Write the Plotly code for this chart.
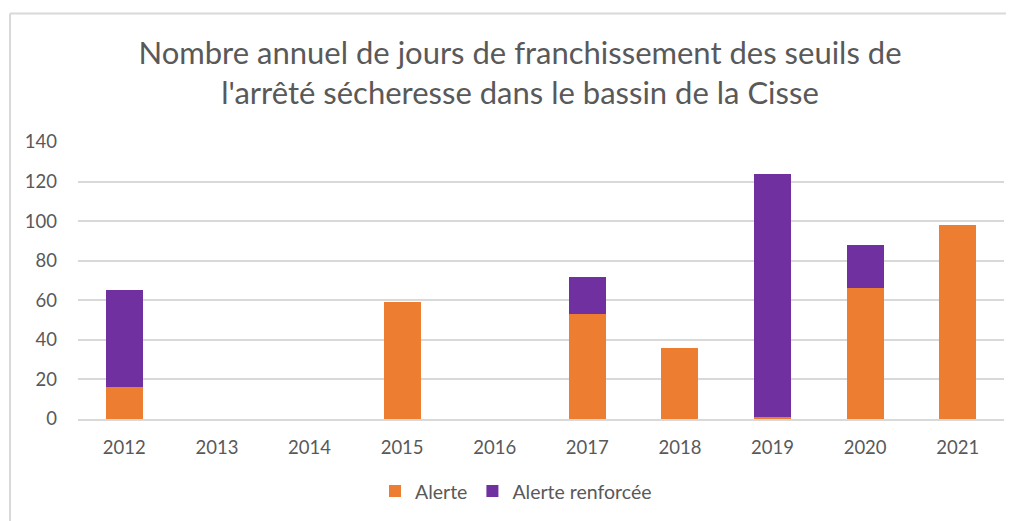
import plotly.graph_objects as go

years = ["2012", "2013", "2014", "2015", "2016", "2017", "2018", "2019", "2020", "2021"]
alerte = [16, 0, 0, 59, 0, 53, 36, 1, 66, 98]
alerte_renforcee = [49, 0, 0, 0, 0, 19, 0, 123, 22, 0]
y_ticks = [0, 20, 40, 60, 80, 100, 120, 140]

# The page body has an 8px margin; work in window pixels and convert.
OFF = 8
WIN_W, WIN_H = 1014, 521
W, H = WIN_W - OFF, WIN_H - OFF
L, R, T, B = 78 - OFF, WIN_W - 1004, 142 - OFF, WIN_H - 422
pw, ph = W - L - R, H - T - B

def px(x):
    return (x - OFF - L) / pw

def py(y):
    return (H - B - (y - OFF)) / ph

fig = go.Figure()
fig.add_trace(go.Bar(x=years, y=alerte, name="Alerte", marker=dict(color="#ED7D31", line=dict(width=0))))
fig.add_trace(go.Bar(x=years, y=alerte_renforcee, name="Alerte renforcée", marker=dict(color="#7030A0", line=dict(width=0))))

fig.update_layout(
    width=W, height=H,
    margin=dict(l=L, r=R, t=T, b=B),
    barmode="stack", bargap=0.6,
    paper_bgcolor="white", plot_bgcolor="white",
    font=dict(family="Lato", color="#595959", size=18),
    title=dict(
        text="Nombre annuel de jours de franchissement des seuils de<br>l'arrêté sécheresse dans le bassin de la Cisse",
        x=(520 - OFF) / W, xanchor="center", y=1 - (64 - OFF) / H, yanchor="middle",
        font=dict(family="Lato", size=31, color="#595959"),
    ),
    xaxis=dict(showgrid=False, showline=True, linecolor="#d9d9d9", linewidth=2, ticks="",
               ticklabelstandoff=11, tickfont=dict(size=18.5)),
    yaxis=dict(range=[0, 140], tickvals=y_ticks, showgrid=True, gridcolor="#d9d9d9", gridwidth=2,
               zeroline=False, ticks="", ticklabelstandoff=20, tickfont=dict(size=18.5)),
    legend=dict(orientation="h", x=px(516), xanchor="center", y=py(495), yanchor="middle",
                font=dict(size=19.5), itemwidth=30, traceorder="normal"),
    showlegend=True,
)

fig.add_shape(type="line", xref="paper", yref="paper", x0=px(10), x1=px(WIN_W + 5), y0=py(12), y1=py(12),
              line=dict(color="#d9d9d9", width=2))
fig.add_shape(type="line", xref="paper", yref="paper", x0=px(10), x1=px(10), y0=py(12), y1=py(WIN_H + 5),
              line=dict(color="#d9d9d9", width=2))

fig.write_html("out.html")
